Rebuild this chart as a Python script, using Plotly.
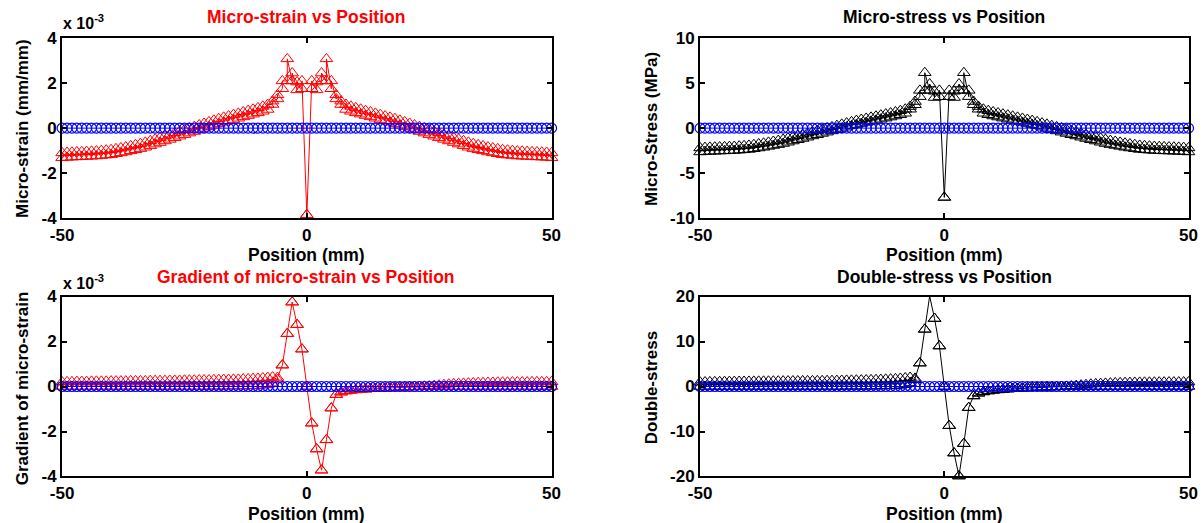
import numpy as np
import plotly.graph_objects as go

# ---------------- data ----------------
position = np.arange(-50, 51, 1)  # mm, nodes

# micro-strain (x1e-3), upper / lower values at each node
strain_up = [-1.10,-1.08,-1.07,-1.06,-1.05,-1.04,-1.03,-1.02,-1.00,-0.98,
             -0.96,-0.92,-0.88,-0.84,-0.79,-0.74,-0.69,-0.63,-0.56,-0.49,
             -0.42,-0.35,-0.28,-0.21,-0.14,-0.07,0.00,0.07,0.14,0.21,
             0.28,0.35,0.42,0.48,0.54,0.60,0.66,0.72,0.78,0.84,
             0.90,0.97,1.05,1.20,1.48,2.10,3.08,2.45,2.05,2.10,
             -3.85,
             2.10,2.05,2.45,3.08,2.10,1.48,1.20,1.05,0.97,0.90,
             0.84,0.78,0.72,0.66,0.60,0.54,0.48,0.42,0.35,0.28,
             0.21,0.14,0.07,0.00,-0.07,-0.14,-0.21,-0.28,-0.35,-0.42,
             -0.49,-0.56,-0.63,-0.69,-0.74,-0.79,-0.84,-0.88,-0.92,-0.96,
             -0.98,-1.00,-1.02,-1.03,-1.04,-1.05,-1.06,-1.07,-1.08,-1.10]
strain_low = [-1.32,-1.30,-1.29,-1.28,-1.27,-1.26,-1.25,-1.24,-1.22,-1.20,
              -1.18,-1.14,-1.10,-1.06,-1.01,-0.96,-0.91,-0.85,-0.78,-0.71,
              -0.64,-0.57,-0.50,-0.43,-0.36,-0.29,-0.22,-0.15,-0.08,-0.01,
              0.06,0.13,0.20,0.26,0.32,0.38,0.44,0.50,0.56,0.62,
              0.68,0.75,0.83,1.05,1.30,1.75,2.10,2.10,1.70,1.75,
              -3.85,
              1.75,1.70,2.10,2.10,1.75,1.30,1.05,0.83,0.75,0.68,
              0.62,0.56,0.50,0.44,0.38,0.32,0.26,0.20,0.13,0.06,
              -0.01,-0.08,-0.15,-0.22,-0.29,-0.36,-0.43,-0.50,-0.57,-0.64,
              -0.71,-0.78,-0.85,-0.91,-0.96,-1.01,-1.06,-1.10,-1.14,-1.18,
              -1.20,-1.22,-1.24,-1.25,-1.26,-1.27,-1.28,-1.29,-1.30,-1.32]

# micro-stress (MPa)
stress_up = [-2.20,-2.16,-2.14,-2.12,-2.10,-2.08,-2.06,-2.04,-2.00,-1.96,
             -1.92,-1.84,-1.76,-1.68,-1.58,-1.48,-1.38,-1.26,-1.12,-0.98,
             -0.84,-0.70,-0.56,-0.42,-0.28,-0.14,0.00,0.14,0.28,0.42,
             0.56,0.70,0.84,0.96,1.08,1.20,1.32,1.44,1.56,1.68,
             1.80,1.94,2.10,2.40,2.96,4.20,6.16,4.90,4.10,4.20,
             -7.70,
             4.20,4.10,4.90,6.16,4.20,2.96,2.40,2.10,1.94,1.80,
             1.68,1.56,1.44,1.32,1.20,1.08,0.96,0.84,0.70,0.56,
             0.42,0.28,0.14,0.00,-0.14,-0.28,-0.42,-0.56,-0.70,-0.84,
             -0.98,-1.12,-1.26,-1.38,-1.48,-1.58,-1.68,-1.76,-1.84,-1.92,
             -1.96,-2.00,-2.04,-2.06,-2.08,-2.10,-2.12,-2.14,-2.16,-2.20]
stress_low = [-2.65,-2.61,-2.59,-2.57,-2.55,-2.53,-2.51,-2.49,-2.45,-2.41,
              -2.37,-2.29,-2.21,-2.13,-2.03,-1.93,-1.83,-1.71,-1.57,-1.43,
              -1.29,-1.15,-1.01,-0.87,-0.73,-0.59,-0.45,-0.31,-0.17,-0.03,
              0.11,0.25,0.39,0.51,0.63,0.75,0.87,0.99,1.11,1.23,
              1.35,1.49,1.65,2.10,2.60,3.50,4.20,4.20,3.40,3.50,
              -7.70,
              3.50,3.40,4.20,4.20,3.50,2.60,2.10,1.65,1.49,1.35,
              1.23,1.11,0.99,0.87,0.75,0.63,0.51,0.39,0.25,0.11,
              -0.03,-0.17,-0.31,-0.45,-0.59,-0.73,-0.87,-1.01,-1.15,-1.29,
              -1.43,-1.57,-1.71,-1.83,-1.93,-2.03,-2.13,-2.21,-2.29,-2.37,
              -2.41,-2.45,-2.49,-2.51,-2.53,-2.55,-2.57,-2.59,-2.61,-2.65]

# gradient of micro-strain (x1e-3)
grad_up = [0.20,0.21,0.21,0.22,0.22,0.22,0.23,0.23,0.23,0.23,
           0.24,0.24,0.24,0.24,0.25,0.25,0.25,0.25,0.26,0.26,
           0.26,0.26,0.27,0.27,0.27,0.28,0.28,0.28,0.29,0.29,
           0.29,0.30,0.30,0.31,0.31,0.32,0.32,0.33,0.34,0.35,
           0.36,0.38,0.40,0.42,0.40,0.95,2.35,3.75,2.75,1.66,
           0.00,
           -1.63,-2.78,-3.72,-2.37,-0.96,-0.36,-0.25,-0.20,-0.17,-0.15,
           -0.13,-0.12,-0.10,-0.09,-0.08,-0.07,-0.06,-0.05,-0.04,-0.03,
           -0.02,-0.01,0.00,0.01,0.02,0.04,0.06,0.08,0.10,0.12,
           0.13,0.14,0.15,0.16,0.17,0.17,0.18,0.18,0.19,0.19,
           0.19,0.20,0.20,0.20,0.20,0.21,0.21,0.21,0.21,0.21]
grad_low = [0.00,0.00,0.00,0.00,0.00,0.00,0.00,0.00,0.00,0.00,
            0.00,0.00,0.00,0.00,0.00,0.00,0.00,0.00,0.00,0.00,
            0.00,0.00,0.00,0.00,0.00,0.00,0.00,0.00,0.00,0.00,
            0.01,0.01,0.01,0.01,0.01,0.02,0.02,0.02,0.03,0.03,
            0.04,0.05,0.08,0.15,0.31,0.95,2.35,3.75,2.75,1.66,
            0.00,
            -1.63,-2.78,-3.72,-2.37,-0.96,-0.36,-0.25,-0.20,-0.17,-0.15,
            -0.13,-0.12,-0.10,-0.09,-0.08,-0.07,-0.06,-0.05,-0.04,-0.03,
            -0.02,-0.01,0.00,0.00,0.00,0.00,0.00,0.00,0.00,0.00,
            0.00,0.00,0.00,0.00,0.00,0.00,0.00,0.00,0.00,0.00,
            0.00,0.00,0.00,0.00,0.00,0.00,0.00,0.00,0.00,0.00]

# double-stress
dstress_up = [0.95,1.00,1.02,1.05,1.06,1.08,1.10,1.10,1.12,1.12,
              1.13,1.14,1.15,1.16,1.17,1.18,1.19,1.20,1.21,1.22,
              1.23,1.24,1.25,1.26,1.27,1.28,1.29,1.30,1.32,1.34,
              1.36,1.38,1.40,1.42,1.45,1.48,1.51,1.55,1.60,1.65,
              1.70,1.80,1.90,2.00,1.80,5.20,12.70,20.10,15.10,9.00,
              0.00,
              -8.70,-14.80,-19.90,-12.70,-4.70,-2.10,-1.50,-1.20,-1.00,-0.85,
              -0.75,-0.65,-0.58,-0.50,-0.44,-0.38,-0.32,-0.27,-0.22,-0.18,
              -0.14,-0.10,-0.06,-0.02,0.02,0.10,0.20,0.30,0.40,0.50,
              0.58,0.64,0.70,0.75,0.80,0.83,0.86,0.88,0.90,0.92,
              0.93,0.94,0.95,0.96,0.97,0.98,0.98,0.99,0.99,1.00]
dstress_low = [0.00,0.00,0.00,0.00,0.00,0.00,0.00,0.00,0.00,0.00,
               0.00,0.00,0.00,0.00,0.00,0.00,0.00,0.00,0.00,0.00,
               0.00,0.00,0.00,0.00,0.00,0.00,0.00,0.00,0.00,0.00,
               0.05,0.05,0.05,0.05,0.05,0.10,0.10,0.10,0.15,0.15,
               0.20,0.25,0.40,0.80,1.50,5.20,12.70,20.10,15.10,9.00,
               0.00,
               -8.70,-14.80,-19.90,-12.70,-4.70,-2.10,-1.50,-1.20,-1.00,-0.85,
               -0.75,-0.65,-0.58,-0.50,-0.44,-0.38,-0.32,-0.27,-0.22,-0.18,
               -0.14,-0.10,-0.06,-0.02,0.00,0.00,0.00,0.00,0.00,0.00,
               0.00,0.00,0.00,0.00,0.00,0.00,0.00,0.00,0.00,0.00,
               0.00,0.00,0.00,0.00,0.00,0.00,0.00,0.00,0.00,0.00]

# reference (blue) series: zero everywhere
reference = [0.0] * len(position)

x_ticks = [-50, 0, 50]
strain_ticks = [-4, -2, 0, 2, 4]
stress_ticks = [-10, -5, 0, 5, 10]
grad_ticks = [-4, -2, 0, 2, 4]
dstress_ticks = [-20, -10, 0, 10, 20]

# ---------------- figure ----------------
# The photographed page shows the figure slightly shifted and squeezed;
# screen = scale * figure_px + offset.  Positions below are given in screen px.
FW, FH = 1224, 545
SCX, OFX = 0.986, 8.7
SCY, OFY = 0.960, 9.0
RED = "rgb(255,0,0)"
BLACK = "rgb(0,0,0)"
BLUE = "rgb(0,0,255)"
FONT = "Liberation Sans, Arial, Helvetica, sans-serif"


def px_x(X):
    return ((X - OFX) / SCX) / FW


def px_y(Y):
    return 1 - ((Y - OFY) / SCY) / FH


def zigzag(xs, low, up, scale=1.0):
    px, py = [], []
    for xi, lo, hi in zip(xs, low, up):
        px += [xi, xi]
        py += [lo * scale, hi * scale]
    return px, py


fig = go.Figure()

# panel geometry in screen pixels (left, right, top, bottom)
panels = [
    dict(box=(59, 550, 38, 217), low=strain_low, up=strain_up, scale=1e-3,
         color=RED, ticks=strain_ticks, rng=[-4e-3, 4e-3]),
    dict(box=(699, 1189, 38, 217), low=stress_low, up=stress_up, scale=1.0,
         color=BLACK, ticks=stress_ticks, rng=[-10, 10]),
    dict(box=(59, 550, 295, 474), low=grad_low, up=grad_up, scale=1e-3,
         color=RED, ticks=grad_ticks, rng=[-4e-3, 4e-3]),
    dict(box=(699, 1189, 295, 474), low=dstress_low, up=dstress_up, scale=1.0,
         color=BLACK, ticks=dstress_ticks, rng=[-20, 20]),
]

for i, p in enumerate(panels):
    k = "" if i == 0 else str(i + 1)
    xa, ya = "x" + k, "y" + k
    px, py = zigzag(position, p["low"], p["up"], p["scale"])
    fig.add_trace(go.Scatter(
        x=px, y=py, xaxis=xa, yaxis=ya, mode="lines+markers",
        line=dict(color=p["color"], width=1),
        marker=dict(symbol="triangle-up-open", size=11, color=p["color"],
                    line=dict(color=p["color"], width=1)),
        showlegend=False, hoverinfo="skip", cliponaxis=False))
    fig.add_trace(go.Scatter(
        x=position, y=[v * p["scale"] for v in reference], xaxis=xa, yaxis=ya,
        mode="lines+markers",
        line=dict(color=BLUE, width=1),
        marker=dict(symbol="circle-open", size=10, color=BLUE,
                    line=dict(color=BLUE, width=1.2)),
        showlegend=False, hoverinfo="skip", cliponaxis=False))
    l, r, t, b = p["box"]
    axis_common = dict(showline=True, linecolor="black", linewidth=2, mirror="allticks",
                       ticks="inside", ticklen=5, tickwidth=1.5, tickcolor="black",
                       showgrid=False, zeroline=False,
                       tickfont=dict(family=FONT, size=17, color="black", weight="bold"))
    fig.layout["xaxis" + k] = dict(
        domain=[px_x(l), px_x(r)], anchor=ya, range=[-50, 50],
        tickvals=x_ticks, ticktext=[str(v) for v in x_ticks], **axis_common)
    tv = [v * p["scale"] for v in p["ticks"]]
    fig.layout["yaxis" + k] = dict(
        domain=[px_y(b), px_y(t)], anchor=xa, range=p["rng"],
        tickvals=tv, ticktext=[str(v) for v in p["ticks"]], **axis_common)


def ann(text, X, Y, size, color="black", angle=0, xanchor="center", bold=True):
    fig.add_annotation(text=text, x=px_x(X), y=px_y(Y), xref="paper", yref="paper",
                       showarrow=False, textangle=angle, xanchor=xanchor, yanchor="middle",
                       font=dict(family=FONT, size=size, color=color,
                                 weight="bold" if bold else "normal"))


# titles
ann("Micro-strain vs Position", 304, 17, 17.5, RED)
ann("Micro-stress vs Position", 944, 17, 17.5, BLACK)
ann("Gradient of micro-strain vs Position", 304, 276, 17.5, RED)
ann("Double-stress vs Position", 944, 276, 17.5, BLACK)
# x labels
for xc in (304, 944):
    ann("Position (mm)", xc, 254, 17.5)
    ann("Position (mm)", xc, 511, 17.5)
# y labels
ann("Micro-strain (mm/mm)", 19, 128, 17, angle=-90)
ann("Micro-Stress (MPa)", 650, 128, 17, angle=-90)
ann("Gradient of micro-strain", 19, 386, 17, angle=-90)
ann("Double-stress", 650, 386, 17, angle=-90)
# exponent labels
ann("x 10<sup>-3</sup>", 58, 22, 16, xanchor="left")
ann("x 10<sup>-3</sup>", 58, 281, 16, xanchor="left")

fig.update_layout(width=FW, height=FH, margin=dict(l=0, r=0, t=0, b=0),
                  paper_bgcolor="white", plot_bgcolor="white")

fig.write_html("out.html")
